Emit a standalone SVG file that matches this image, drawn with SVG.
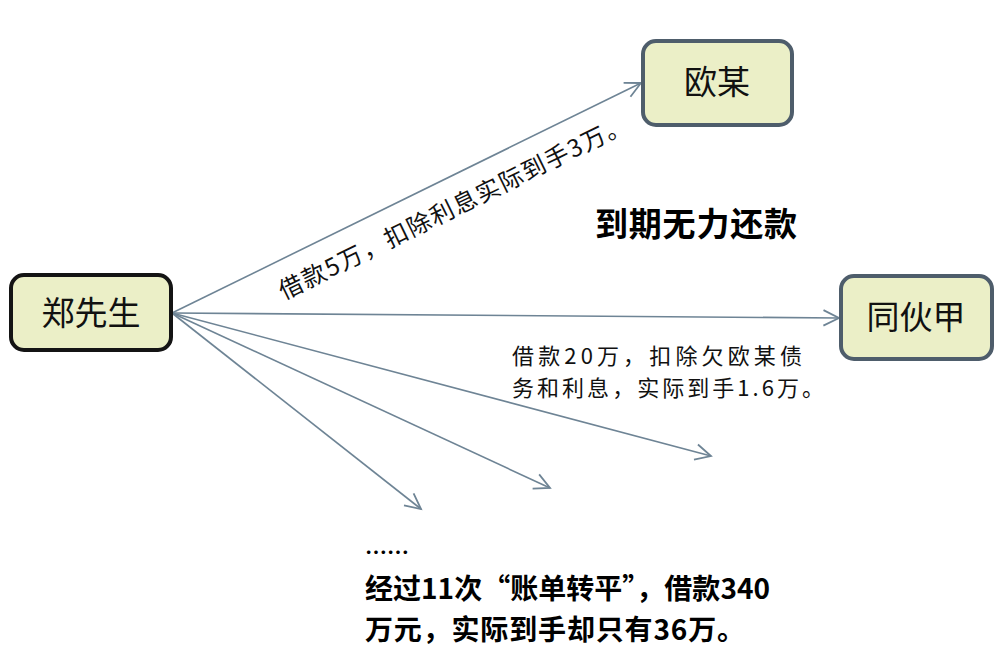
<svg xmlns="http://www.w3.org/2000/svg" width="1001" height="665" viewBox="0 0 1001 665">
<style>
.box{fill:#ebefc7;stroke-width:4}
.nt{font-family:"Noto Sans CJK SC","Noto Sans",sans-serif;font-size:33px;fill:#111;text-anchor:middle}
.lb{font-family:"Noto Sans CJK SC","Noto Sans",sans-serif;font-size:24px;fill:#111}
.lb2{font-family:"Noto Sans CJK SC","Noto Sans",sans-serif;font-size:22px;fill:#111}
.bd{font-family:"Noto Sans CJK SC","Noto Sans",sans-serif;font-weight:bold;fill:#000}
.cn{stroke:#6e8495;stroke-width:1.6;fill:none;marker-end:url(#ah)}
</style>
<defs>
<marker id="ah" markerUnits="userSpaceOnUse" markerWidth="20" markerHeight="20" viewBox="-16 -8 18 16" refX="0" refY="0" orient="auto">
<path d="M-14,-7 L0,0 L-14,7" fill="none" stroke="#6e8495" stroke-width="1.6"/>
</marker>
</defs>
<rect width="1001" height="665" fill="#fff"/>
<g id="connectors">
<line class="cn" x1="172" y1="313" x2="641" y2="83"/>
<line class="cn" x1="172" y1="313" x2="839" y2="318"/>
<line class="cn" x1="172" y1="313" x2="711" y2="456"/>
<line class="cn" x1="172" y1="313" x2="550" y2="488"/>
<line class="cn" x1="172" y1="313" x2="421" y2="509"/>
</g>
<g id="node-zheng">
<rect class="box" x="11" y="275" width="160" height="75" rx="13" stroke="#141414"/>
<text class="nt" x="91" y="325">郑先生</text>
</g>
<g id="node-ou">
<rect class="box" x="643" y="41" width="149" height="84" rx="13" stroke="#4e5d6b"/>
<text class="nt" x="717" y="94">欧某</text>
</g>
<g id="node-tong">
<rect class="box" x="841" y="276" width="151" height="83" rx="13" stroke="#4e5d6b"/>
<text class="nt" x="916" y="329">同伙甲</text>
</g>
<g id="labels">
<text class="lb" x="284" y="300" transform="rotate(-26.1 284 300)" textLength="386" lengthAdjust="spacing">借款5万，扣除利息实际到手3万。</text>
<text class="bd" x="595" y="236" font-size="33" textLength="202" lengthAdjust="spacing">到期无力还款</text>
<text class="lb2" x="512" y="364" textLength="290" lengthAdjust="spacing">借款20万，扣除欠欧某债</text>
<text class="lb2" x="512" y="396" textLength="312" lengthAdjust="spacing">务和利息，实际到手1.6万。</text>
<text class="bd" x="365" y="560" font-size="22">……</text>
<text class="bd" x="365" y="599" font-size="28" textLength="405" lengthAdjust="spacing">经过11次“账单转平”，借款340</text>
<text class="bd" x="365" y="640" font-size="28" textLength="380" lengthAdjust="spacing">万元，实际到手却只有36万。</text>
</g>
</svg>
